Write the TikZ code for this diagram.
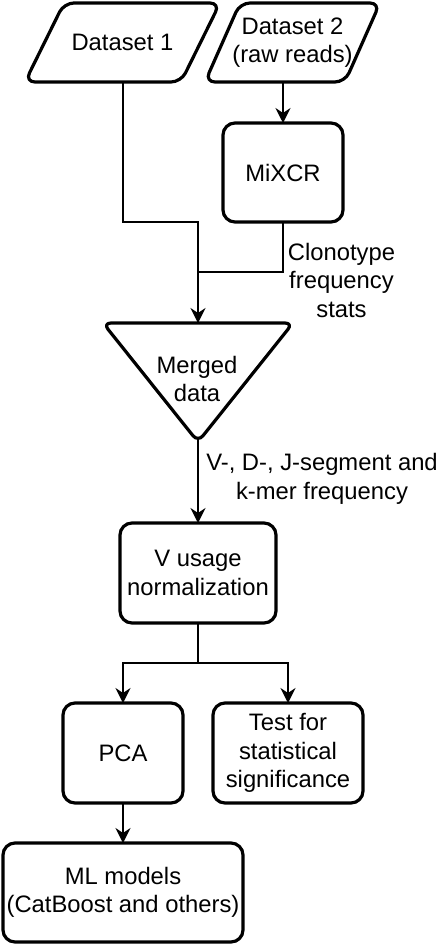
\documentclass[tikz,border=0pt]{standalone}
\usepackage{fontspec}
\setmainfont{Liberation Sans}
\usetikzlibrary{arrows.meta}
\begin{document}
\begin{tikzpicture}[x=1pt,y=-1pt,
 shapeline/.style={line width=3.2pt, line join=round},
 box/.style={draw, line width=3.2pt, rounded corners=12pt, align=center, inner sep=0pt, outer sep=0pt, font=\fontsize{23.8}{28.5}\selectfont},
 txt/.style={align=center, inner sep=0pt, outer sep=0pt, font=\fontsize{23.8}{28.5}\selectfont},
 conn/.style={line width=2pt, -{Stealth[length=15pt,width=15pt,inset=5pt]}},
 plainline/.style={line width=2pt}
]
\useasboundingbox (0,0) rectangle (444,944);

% Dataset 1
\draw[shapeline, rounded corners=10pt] (142,3) -- (220,3) -- (181,82) -- (25,82) -- (64,3) -- cycle;
\node[txt, minimum width=195pt, minimum height=79pt] (d1) at (122.5,42.5) {Dataset 1};

% Dataset 2
\draw[shapeline, rounded corners=10pt] (310,3) -- (380,3) -- (345,82) -- (205,82) -- (240,3) -- cycle;
\node[txt, minimum width=175pt, minimum height=79pt] (d2) at (292.5,42.5) {Dataset 2\\(raw reads)};

% MiXCR
\node[box, minimum width=120pt, minimum height=99pt] (mixcr) at (283,172.5) {MiXCR};

% Merged data triangle
\draw[shapeline, rounded corners=8pt] (198,323) -- (293,323) -- (198,442) -- (103,323) -- cycle;
\coordinate (mtop) at (198,323);
\coordinate (mbot) at (198,440);
\node[txt] (merged) at (197,379) {Merged\\data};

% Boxes
\node[box, minimum width=156pt, minimum height=100pt] (vnorm) at (198,573) {V usage\\normalization};
\node[box, minimum width=120pt, minimum height=100pt] (pca) at (123,753) {PCA};
\node[box, minimum width=150pt, minimum height=100pt] (test) at (288,753) {Test for\\statistical\\significance};
\node[box, minimum width=240pt, minimum height=99pt] (ml) at (123,892.5) {ML models\\(CatBoost and others)};

% Labels
\node[txt] (lclono) at (341.5,280) {Clonotype\\frequency\\stats};
\node[txt] (lvdj) at (322,479) {V-, D-, J-segment and\\k-mer frequency};

% Connectors
\draw[conn] (d2.south -| mixcr.north) -- (mixcr.north);
\draw[conn] (d1.south) -- ++(0,140) -| (mtop);
\draw[plainline] (mixcr.south) -- ++(0,50) -| (mtop);
\draw[conn] (mbot) -- (vnorm.north);
\draw[conn] (vnorm.south) -- ++(0,40) -| (pca.north);
\draw[conn] (vnorm.south) -- ++(0,40) -| (test.north);
\draw[conn] (pca.south) -- (ml.north);
\end{tikzpicture}
\end{document}
